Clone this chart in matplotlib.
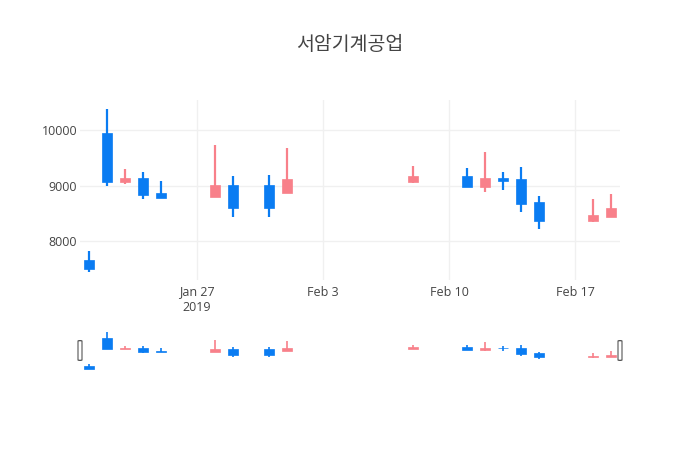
import matplotlib
matplotlib.use("Agg")
import matplotlib.pyplot as plt
import matplotlib.dates as mdates
from matplotlib.patches import FancyBboxPatch
import numpy as np
import datetime as dt

plt.rcParams['font.family'] = ['Open Sans', 'Noto Sans CJK KR', 'DejaVu Sans']

dates = ["2019-01-21", "2019-01-22", "2019-01-23", "2019-01-24", "2019-01-25",
         "2019-01-28", "2019-01-29", "2019-01-31", "2019-02-01", "2019-02-08",
         "2019-02-11", "2019-02-12", "2019-02-13", "2019-02-14", "2019-02-15",
         "2019-02-18", "2019-02-19"]
opens = [7490, 9070, 9140, 8830, 8780, 9010, 8590, 8590, 9120, 9170,
         8980, 9130, 9090, 8670, 8370, 8470, 8590]
highs = [7820, 10380, 9300, 9250, 9090, 9730, 9180, 9190, 9680, 9350,
         9320, 9600, 9240, 9340, 8810, 8750, 8850]
lows = [7440, 9000, 9020, 8750, 8770, 8790, 8440, 8440, 8860, 9040,
        8980, 8890, 8920, 8520, 8210, 8350, 8440]
closes = [7660, 9940, 9070, 9140, 8870, 8790, 9010, 9010, 8860, 9070,
          9170, 8980, 9130, 9120, 8700, 8370, 8440]

up_color = '#0a7cf2'
down_color = '#f8808a'

x = mdates.date2num([dt.datetime.strptime(d, "%Y-%m-%d") for d in dates])
o = np.array(opens); h = np.array(highs); l = np.array(lows); c = np.array(closes)
cols = [up_color if cc > oo else down_color for oo, cc in zip(o, c)]

fig = plt.figure(figsize=(7, 4.5), dpi=100)
fig.patch.set_facecolor('white')

ax = fig.add_axes([80/700, 1-280/450, 540/700, 180/450])
sl = fig.add_axes([80/700, 1-371/450, 540/700, 41/450])

xmin = mdates.date2num(dt.datetime(2019, 1, 20, 12))
xmax = mdates.date2num(dt.datetime(2019, 2, 19, 12))

def draw(a, lw):
    a.vlines(x, l, h, colors=cols, linewidth=lw, zorder=2)
    a.bar(x, np.maximum(np.abs(c - o), 25), bottom=np.minimum(o, c), width=0.6,
          color=cols, edgecolor=cols, linewidth=0.5, zorder=3)
    a.set_xlim(xmin, xmax)
    a.set_ylim(7300, 10540)
    for s in a.spines.values():
        s.set_visible(False)

draw(ax, 1.6)
draw(sl, 1.2)

ax.grid(color='#f0f0f0', linewidth=1, zorder=0)
ax.set_axisbelow(True)
ax.set_yticks([8000, 9000, 10000])
ax.set_yticklabels(['8000', '9000', '10000'])
ticks = [dt.datetime(2019, 1, 27), dt.datetime(2019, 2, 3),
         dt.datetime(2019, 2, 10), dt.datetime(2019, 2, 17)]
ax.set_xticks(mdates.date2num(ticks))
ax.set_xticklabels(['Jan 27\n2019', 'Feb 3', 'Feb 10', 'Feb 17'], linespacing=1.2, va='top')
ax.tick_params(length=0, labelsize=9, labelcolor='#444444')
ax.tick_params(axis='x', pad=4)
ax.tick_params(axis='y', pad=2)

sl.set_xticks([]); sl.set_yticks([])

for xp in (0.0, 1.0):
    sl.add_patch(FancyBboxPatch((xp - 2/540, 0.26), 4/540, 0.48,
                                boxstyle="round,pad=0,rounding_size=0.004",
                                transform=sl.transAxes, facecolor='white',
                                edgecolor='#555555', linewidth=0.8, clip_on=False, zorder=5))

fig.text(0.5, 1-44/450, '서암기계공업', ha='center', va='center', fontsize=14,
         color='#444444', family=['Noto Sans CJK KR', 'DejaVu Sans'])

fig.savefig('out.png', dpi=100)
